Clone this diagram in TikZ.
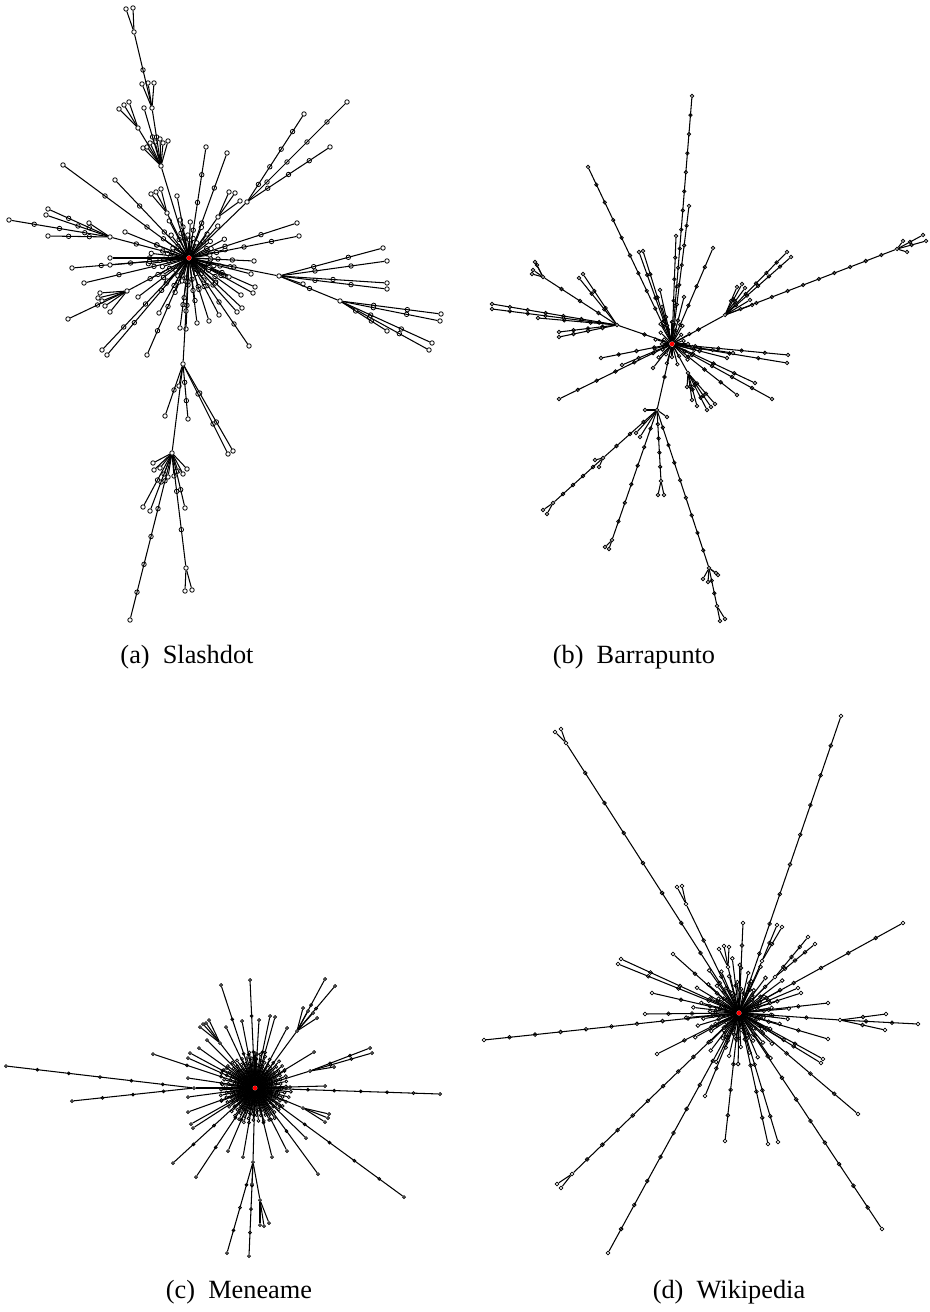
\documentclass[tikz,border=0pt]{standalone}
\usepackage{fontspec}
\setmainfont{Liberation Serif}
\usetikzlibrary{calc}

\def\vertsize{1.5pt}
\tikzset{
  vert/.style={circle, draw, fill=white, line width=0.3pt, inner sep=0pt, minimum size=\vertsize},
  hub/.style={circle, fill=red, inner sep=0pt, minimum size=1.8pt},
  link/.style={line width=0.4pt},
  caption/.style={font=\fontsize{10}{12}\selectfont}
}

% #1 parent, #2 name, #3 end point, #4 number of inner vertices
\newcommand\ray[4]{%
  \node[vert] (#2) at (#3) {};
  \ifnum#4>0
    \foreach \k in {1,...,#4}
      \node[vert] (#2-\k) at ($(#1)!{\k/(#4+1)}!(#2)$) {};
    \draw[link] (#1) foreach \k in {1,...,#4} {-- (#2-\k)} -- (#2);
  \else
    \draw[link] (#1) -- (#2);
  \fi}
% #1 parent, #2 prefix, #3 list x/y/inner
\newcommand\fan[3]{%
  \foreach \x/\y/\n [count=\i] in {#3} {\ray{#1}{#2\i}{\x,\y}{\n}}}

\begin{document}
\begin{tikzpicture}[x=0.38pt, y=-0.38pt]
  \path (0,0) coordinate (nw) (929,1312) coordinate (se);
  \path[use as bounding box] (nw) rectangle (se);

  %% (a) Slashdot
  \def\vertsize{1.7pt}
  \node[hub] (a) at (189,258) {};
  \foreach \a [count=\i] in {0,8,...,352} {
    \pgfmathsetmacro\r{16+mod(\i*13,29)}
    \pgfmathsetmacro\t{\a+mod(\i*7,5)}
    \pgfmathtruncatemacro\n{\r>34}
    \ray{a}{ac\i}{$(a)+(\t:\r)$}{\n}}
  \fan{a}{am}{63/165/2, 115/180/2, 177/196/1, 206/147/3, 227/153/2, 72/268/3, 110/258/1,
    110/265/1, 84/283/2, 125/232/1, 102/350/3, 107/355/2, 147/355/3, 138/297/1, 159/313/1,
    180/328/2, 186/329/2, 197/323/1, 209/321/1, 219/315/1, 249/346/3, 237/312/1, 242/308/1,
    253/293/1, 255/287/1, 241/295/1, 297/223/2, 299/236/3, 254/261/2, 251/274/1, 229/277/1}
  % upper chain
  \ray{a}{aT1}{161,166}{0}
  \fan{aT1}{atl}{143/148/0, 147/147/0, 150/143/0, 155/142/0, 160/139/0, 163/143/0, 168/141/0, 144/108/1}
  \ray{aT1}{aT4}{138,128}{0}
  \fan{aT4}{avl}{119/109/0, 124/105/0, 129/102/0}
  \ray{aT1}{aT2}{152,108}{1}
  \fan{aT2}{awl}{142/84/0, 148/83/0, 154/83/0}
  \ray{aT2}{aT3}{134,32}{1}
  \fan{aT3}{axl}{126/9/0, 133/8/0}
  % upper right
  \ray{a}{aU}{247,202}{0}
  \fan{aU}{aul}{304/114/4, 347/102/4, 330/147/3}
  \ray{a}{aF}{218,217}{0}
  \fan{aF}{afl}{229/192/0, 235/193/0, 240/201/0}
  \ray{a}{aG}{167,213}{0}
  \fan{aG}{agl}{151/194/0, 156/192/0, 161/189/0}
  % left
  \ray{a}{aL}{110,237}{2}
  \fan{aL}{all}{9/220/3, 48/209/2, 46/215/1, 48/236/2, 89/223/0}
  \ray{a}{aM}{127,291}{1}
  \fan{aM}{aml}{100/293/0, 98/298/0, 102/301/0, 105/306/0, 110/312/0, 68/319/1}
  % right
  \ray{a}{aR}{279,276}{1}
  \fan{aR}{arl}{383/248/2, 387/261/2, 387/283/1, 387/289/2, 303/284/0}
  \ray{aR}{aS}{340,301}{1}
  \fan{aS}{asl}{441/314/2, 440/321/2, 432/343/2, 429/350/2, 387/331/2}
  % lower chain
  \ray{a}{aD}{183,364}{1}
  \fan{aD}{adl}{165/416/1, 188/419/2, 233/451/2, 228/454/2, 179/386/0}
  \ray{aD}{aE}{172,453}{0}
  \fan{aE}{ael}{153/463/0, 154/470/0, 160/468/0, 164/474/0, 168/477/0, 174/476/0, 178/471/0,
    183/474/0, 187/469/0, 143/507/1, 150/511/1, 185/508/2, 130/620/5}
  \ray{aE}{aE2}{186,568}{2}
  \fan{aE2}{ahl}{185/591/0, 192/590/0}
  \node[caption] (capa) at (187,657) {(a)~~Slashdot};

  %% (b) Barrapunto
  \def\vertsize{1.3pt}
  \node[hub] (b) at (672,344) {};
  \foreach \a [count=\i] in {0,15,...,345} {
    \pgfmathsetmacro\r{9+mod(\i*7,15)}
    \ray{b}{bc\i}{$(b)+(\a:\r)$}{0}}
  \fan{b}{bm}{692/96/12, 689/206/6, 676/236/4, 588/167/9, 639/252/3, 643/251/3, 660/290/1,
    662/307/1, 713/248/4, 684/297/1, 788/355/4, 787/363/3, 727/358/1, 733/353/2, 772/399/4,
    755/383/3, 737/395/3, 601/358/3, 559/399/5, 622/365/2, 653/368/0}
  \ray{b}{bL}{617,325}{1}
  \fan{bL}{bll}{583/274/2, 579/278/2, 492/304/6, 492/309/6, 538/318/2, 559/332/3, 559/337/3}
  \ray{bL}{bL2}{543,277}{3}
  \fan{bL2}{bkl}{532/274/0, 537/265/0, 533/270/0, 535/262/0}
  \ray{b}{bR}{725,315}{1}
  \fan{bR}{brl}{787/252/5, 791/257/5, 742/284/1, 745/288/1, 737/287/1, 750/300/0, 752/305/0}
  \ray{bR}{bR2}{897,249}{10}
  \fan{bR2}{bsl}{923/235/1, 926/241/1, 907/252/0, 903/241/0}
  \ray{b}{bS}{688,373}{0}
  \fan{bS}{btl}{697/406/1, 707/410/2, 711/407/2, 715/404/2, 687/387/0, 692/400/1}
  % lower part
  \ray{b}{bD}{657,410}{1}
  \fan{bD}{bdl}{645/410/0, 636/433/0, 640/437/0, 667/417/0}
  \ray{bD}{bD1}{603,458}{3}
  \fan{bD1}{bel}{595/460/0, 599/467/0}
  \ray{bD1}{bD3}{553,503}{4}
  \fan{bD3}{bfl}{543/510/0, 547/514/0}
  \ray{bD}{bD4}{612,540}{6}
  \fan{bD4}{bgl}{605/547/0, 609/549/0}
  \ray{bD}{bD5}{661,481}{4}
  \fan{bD5}{bhl}{658/495/0, 664/495/0}
  \ray{bD}{bD6}{709,568}{8}
  \fan{bD6}{bil}{703/579/0, 708/582/0, 718/575/0, 716/573/0}
  \ray{bD6}{bD7}{717,606}{2}
  \fan{bD7}{bjl}{720/621/0, 725/619/0}
  \node[caption] (capb) at (634,657) {(b)~~Barrapunto};

  %% (c) Meneame
  \def\vertsize{1.1pt}
  \node[hub] (c) at (255,1088) {};
  \foreach \a [count=\i] in {0,3,...,357} {
    \pgfmathsetmacro\r{20+mod(\i*11,17)}
    \pgfmathtruncatemacro\n{\r>29}
    \ray{c}{cc\i}{$(c)+(\a:\r)$}{\n}}
  \ray{c}{cW}{194,1088}{1}
  \fan{cW}{cwl}{6/1066/5, 72/1101/3}
  \fan{c}{cm}{440/1094/6, 404/1197/5, 314/1052/1, 325/1086/1, 306/1138/0, 318/1174/1,
    287/1151/1, 272/1157/1, 243/1157/1, 228/1151/1, 196/1177/2, 173/1163/3, 193/1128/0,
    191/1124/0, 188/1112/1, 188/1097/0, 188/1078/1, 153/1054/2, 188/1058/1, 190/1053/1,
    199/1048/1, 207/1040/0, 221/985/2, 250/980/2, 226/1027/0, 242/1021/1, 259/1020/1,
    270/1016/1, 275/1017/1, 287/1028/0}
  \ray{c}{cN}{297,1031}{0}
  \fan{cN}{cnl}{325/979/1, 335/986/1, 303/1008/0, 308/1011/0, 313/1013/0, 317/1018/0}
  \ray{c}{cE}{310,1071}{0}
  \fan{cE}{cel}{370/1048/2, 372/1053/2, 334/1067/0}
  \ray{c}{cF}{303,1108}{0}
  \fan{cF}{cfl}{329/1114/0, 328/1118/0, 325/1122/0}
  \ray{c}{cG}{220,1043}{0}
  \fan{cG}{cgl}{200/1027/0, 203/1024/0, 206/1023/0, 209/1020/0}
  \ray{c}{cD}{253,1162}{0}
  \fan{cD}{cdl}{227/1253/3, 249/1256/3, 252/1184/0}
  \ray{cD}{cD2}{260,1200}{0}
  \fan{cD2}{chl}{260/1225/0, 264/1226/0, 269/1223/0}
  \node[caption] (capc) at (239,1292) {(c)~~Meneame};

  %% (d) Wikipedia
  \def\vertsize{1.4pt}
  \node[hub] (d) at (739,1013) {};
  \foreach \a [count=\i] in {0,5,...,355} {
    \pgfmathsetmacro\r{15+mod(\i*17,41)}
    \pgfmathsetmacro\t{\a+mod(\i*3,4)}
    \pgfmathtruncatemacro\n{\r>34}
    \ray{d}{dc\i}{$(d)+(\t:\r)$}{\n}}
  \fan{d}{dm}{841/716/9, 484/1040/9, 903/923/5, 828/1003/2, 828/1039/2, 858/1114/4,
    823/1059/2, 821/1063/2, 882/1229/9, 608/1253/9, 725/1141/4, 768/1144/4, 778/1142/4,
    705/1096/2, 743/923/3, 673/954/2, 621/959/3, 618/964/3, 652/993/2, 645/1014/3,
    657/1054/2, 801/993/1, 798/988/1}
  \ray{d}{dNW}{566,743}{8}
  \fan{dNW}{dal}{555/732/0, 561/729/0}
  \ray{d}{dN2}{686,904}{2}
  \fan{dN2}{dbl}{677/887/0, 682/886/0}
  \ray{d}{dE}{840,1020}{2}
  \fan{dE}{del}{918/1024/2, 886/1014/1, 885/1030/1}
  \ray{d}{dSW}{572,1174}{10}
  \fan{dSW}{dsl}{557/1184/0, 561/1188/0}
  \ray{d}{dN3}{775,977}{0}
  \fan{dN3}{dfl}{808/937/3, 815/944/3}
  \ray{d}{dN4}{762,961}{0}
  \fan{dN4}{dgl}{777/925/1, 782/927/1}
  \ray{d}{dN5}{728,967}{0}
  \fan{dN5}{dhl}{729/947/0, 719/949/0, 724/946/0}
  \node[caption] (capd) at (729,1292) {(d)~~Wikipedia};
\end{tikzpicture}
\end{document}
